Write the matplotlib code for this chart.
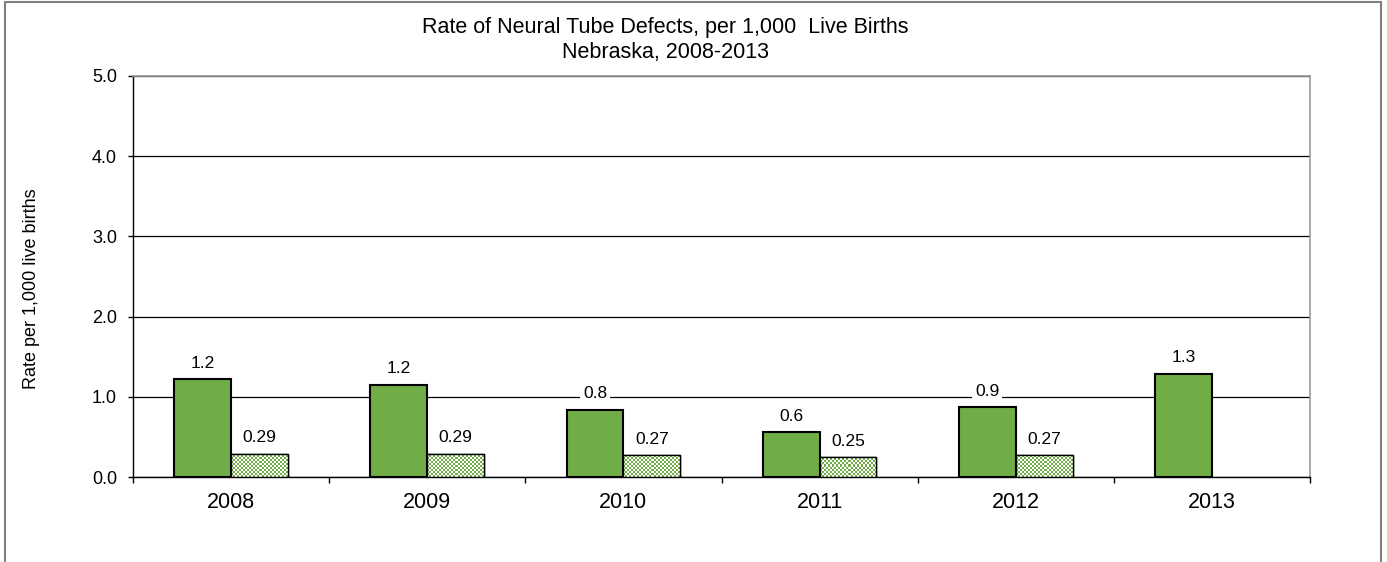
import matplotlib
matplotlib.use("Agg")
import matplotlib.pyplot as plt
import numpy as np
from matplotlib.patches import Rectangle

plt.rcParams['font.family'] = ['Liberation Sans', 'DejaVu Sans']

years = ['2008', '2009', '2010', '2011', '2012', '2013']
rate_main = [1.22, 1.15, 0.84, 0.56, 0.87, 1.29]
rate_main_labels = ['1.2', '1.2', '0.8', '0.6', '0.9', '1.3']
rate_second = [0.29, 0.29, 0.27, 0.25, 0.27, np.nan]
rate_second_labels = ['0.29', '0.29', '0.27', '0.25', '0.27', '']

title = "Rate of Neural Tube Defects, per 1,000  Live Births\nNebraska, 2008-2013"
ylabel = "Rate per 1,000 live births"
yticks = [0.0, 1.0, 2.0, 3.0, 4.0, 5.0]

W, H = 1387, 562
fig = plt.figure(figsize=(W / 100, H / 100), dpi=100)
ax = fig.add_axes([133 / W, 1 - 477 / H, (1310 - 133) / W, (477 - 76) / H])

green = '#70AD47'
x = np.arange(len(years))
bw = 0.29

ax.set_xlim(-0.5, len(years) - 0.5)
ax.set_ylim(0, 5)

ax.set_axisbelow(True)
ax.bar(x - bw / 2, rate_main, bw, color=green, edgecolor='black', linewidth=1.5, zorder=3)
sec = np.array(rate_second, dtype=float)
sec_bars = ax.bar(x + bw / 2, sec, bw, color='white', edgecolor='black', linewidth=1.0, zorder=3)

# checkerboard fill for the second series, clipped to each bar
fig.canvas.draw()
cmap = matplotlib.colors.ListedColormap(['white', green])
for b in sec_bars:
    h = b.get_height()
    if not np.isfinite(h) or h <= 0:
        continue
    x0, w = b.get_x(), b.get_width()
    p0 = ax.transData.transform((x0, 0))
    p1 = ax.transData.transform((x0 + w, h))
    nx = max(1, int(round(abs(p1[0] - p0[0]) / 2)))
    ny = max(1, int(round(abs(p1[1] - p0[1]) / 2)))
    board = (np.add.outer(np.arange(ny), np.arange(nx)) % 2).astype(float)
    im = ax.imshow(board, cmap=cmap, extent=(x0, x0 + w, 0, h), origin='lower',
                   interpolation='nearest', aspect='auto', zorder=3.5)
    im.set_clip_path(b)
ax.bar(x + bw / 2, sec, bw, color='none', edgecolor='black', linewidth=1.0, zorder=4)
ax.set_xlim(-0.5, len(years) - 0.5)
ax.set_ylim(0, 5)

for i in range(len(years)):
    ax.annotate(rate_main_labels[i], (x[i] - bw / 2, rate_main[i]), xytext=(0, 6),
                textcoords='offset points', ha='center', va='bottom', fontsize=12.5,
                bbox=dict(facecolor='white', edgecolor='none', pad=2), zorder=5)
    if rate_second_labels[i]:
        ax.annotate(rate_second_labels[i], (x[i] + bw / 2, sec[i]), xytext=(0, 6),
                    textcoords='offset points', ha='center', va='bottom', fontsize=12.5,
                    bbox=dict(facecolor='white', edgecolor='none', pad=2), zorder=5)

ax.set_yticks(yticks)
ax.set_yticklabels([f"{v:.1f}" for v in yticks], fontsize=13)
ax.yaxis.grid(True, color='black', linewidth=0.9)
ax.tick_params(axis='y', length=3.6, width=1, direction='out', pad=8)

ax.set_xticks(x)
ax.set_xticklabels(years, fontsize=15.5)
ax.tick_params(axis='x', length=0, pad=11)
ax.set_xticks(np.arange(len(years) + 1) - 0.5, minor=True)
ax.tick_params(axis='x', which='minor', length=4.3, width=1, direction='out')

for s in ['top', 'right']:
    ax.spines[s].set_color('#999999')
    ax.spines[s].set_linewidth(1.2)
for s in ['left', 'bottom']:
    ax.spines[s].set_color('black')
    ax.spines[s].set_linewidth(1.0)

fig.text(32 / W, 1 - 289 / H, ylabel, rotation=90, ha='center', va='center', fontsize=13)
fig.text(665.5 / W, 1 - 40 / H, title, ha='center', va='center', fontsize=15.5,
         linespacing=1.2)

border = Rectangle((5 / W, -0.2), (1381 - 5) / W, 1.2 - 2 / H, transform=fig.transFigure,
                   fill=False, edgecolor='#808080', linewidth=1.5, clip_on=False)
fig.patches.append(border)

fig.savefig('out.png', dpi=100)
